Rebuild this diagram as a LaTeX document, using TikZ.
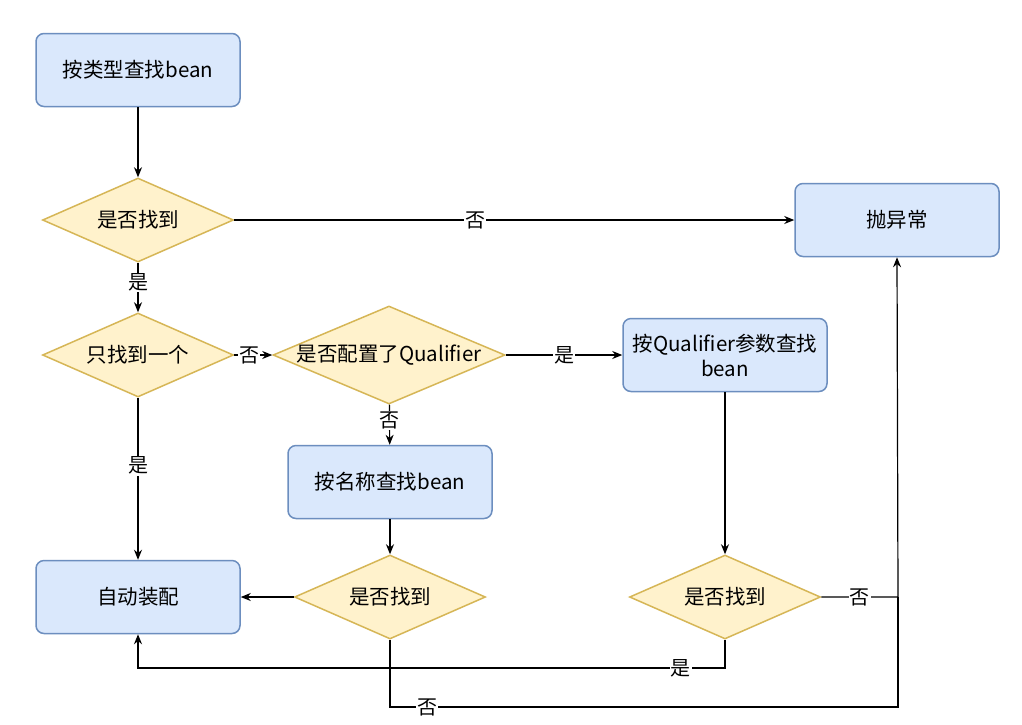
\documentclass[tikz,border=0pt]{standalone}
\usepackage{fontspec}
\setmainfont{Noto Sans CJK SC}
\usetikzlibrary{shapes.geometric,arrows.meta}
\definecolor{boxfill}{HTML}{DAE8FC}
\definecolor{boxdraw}{HTML}{6C8EBF}
\definecolor{diafill}{HTML}{FFF2CC}
\definecolor{diadraw}{HTML}{D6B656}
\tikzset{
  x=1pt, y=-1pt,
  stepbox/.style={draw=boxdraw, fill=boxfill, line width=1.5pt, rounded corners=8pt,
    minimum width=204pt, minimum height=73pt, inner sep=0pt, align=center, font=\fontsize{20.5}{25}\selectfont},
  dia/.style={draw=diadraw, fill=diafill, line width=1.5pt, diamond, inner sep=0pt,
    minimum width=191pt, minimum height=84pt},
  dialbl/.style={font=\fontsize{20.5}{25}\selectfont, inner sep=0pt},
  conn/.style={line width=1.2pt, -{Stealth[length=10pt,width=8pt]}},
  plain/.style={line width=1.2pt},
  lbl/.style={fill=white, inner sep=1pt, font=\fontsize{20}{24}\selectfont}
}
\begin{document}
\begin{tikzpicture}
\fill[white] (0,0) rectangle (1022,724);
\useasboundingbox (0,0) rectangle (1022,724);

\node[stepbox] (find) at (138,70) {按类型查找bean};
\node[dia, label={[dialbl]center:是否找到}] (d1) at (138,220) {};
\node[stepbox] (err) at (897,220) {抛异常};
\node[dia, label={[dialbl]center:只找到一个}] (d2) at (138,355) {};
\node[dia, minimum width=232pt, minimum height=98pt, label={[dialbl]center:是否配置了Qualifier}] (d3) at (389,355) {};
\node[stepbox] (qual) at (725,355) {按Qualifier参数查找\\bean};
\node[stepbox] (name) at (390,482) {按名称查找bean};
\node[stepbox] (auto) at (138,597) {自动装配};
\node[dia, label={[dialbl]center:是否找到}] (d4) at (390,597) {};
\node[dia, label={[dialbl]center:是否找到}] (d5) at (725,597) {};

\coordinate (c5) at (898,597);
\coordinate (c5b) at (725,668);
\coordinate (c5c) at (138,668);
\coordinate (c4) at (390,707);
\coordinate (c4b) at (898,707);

\draw[conn] (find) -- (d1);
\draw[conn] (d1) -- node[lbl, pos=0.43] {否} (err);
\draw[conn] (d1) -- node[lbl, pos=0.4] {是} (d2);
\draw[conn] (d2) -- node[lbl, pos=0.4] {否} (d3);
\draw[conn] (d3) -- node[lbl, pos=0.5] {是} (qual);
\draw[conn] (d3) -- node[lbl, pos=0.4] {否} (name);
\draw[conn] (d2) -- node[lbl, pos=0.42] {是} (auto);
\draw[conn] (name) -- (d4);
\draw[conn] (d4) -- (auto);
\draw[conn] (qual) -- (d5);
\draw[conn] (d5.east) -- node[lbl] {否} (c5) -- (err.south);
\draw[conn] (d5.south) -- (c5b) -- node[lbl, pos=0.075] {是} (c5c) -- (auto.south);
\draw[plain] (d4.south) -- (c4) -- node[lbl, pos=0.073] {否} (c4b) -- (c5);
\end{tikzpicture}
\end{document}
